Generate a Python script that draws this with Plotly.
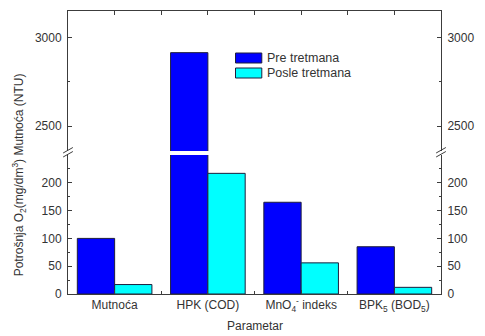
import plotly.graph_objects as go

# Water quality parameters before and after treatment
categories = ["Mutnoća", "HPK (COD)", "MnO<sub>4</sub><sup>-</sup> indeks", "BPK<sub>5</sub> (BOD<sub>5</sub>)"]
x_pos = [1, 2, 3, 4]
pre_tretmana = [100, 2915, 165, 85]
posle_tretmana = [17, 217, 56, 12]
series_names = ["Pre tretmana", "Posle tretmana"]

lower_ticks = [0, 50, 100, 150, 200]
upper_ticks = [2500, 3000]

W, H = 485, 336
L, R, T, B = 68, 451, 11, 294          # plot area in pixels
GAP_TOP, GAP_BOT = 151, 155            # axis break (pixels)

BLUE = "#0000ff"
CYAN = "#00ffff"
EDGE = "#1e1e3c"
AXIS = "#3c3c3c"
TXT = "#333333"
FONT = "Liberation Sans, Arial, sans-serif"


def px(xp):
    return (xp - L) / (R - L)


def py(yp):
    return (B - yp) / (B - T)


fig = go.Figure()
for xa, ya in (("x", "y"), ("x2", "y3")):
    fig.add_trace(go.Bar(x=x_pos, y=pre_tretmana, name=series_names[0],
                         marker=dict(color=BLUE, line=dict(color=EDGE, width=1)),
                         xaxis=xa, yaxis=ya, showlegend=False))
    fig.add_trace(go.Bar(x=x_pos, y=posle_tretmana, name=series_names[1],
                         marker=dict(color=CYAN, line=dict(color=EDGE, width=1)),
                         xaxis=xa, yaxis=ya, showlegend=False))

common_axis = dict(showline=True, linecolor=AXIS, linewidth=1, showgrid=False,
                   zeroline=False, ticks="inside", tickcolor=AXIS, ticklen=4,
                   tickfont=dict(family=FONT, size=12, color=TXT))

lower_dom = [0, py(GAP_BOT)]
upper_dom = [py(GAP_TOP), 1]

fig.update_layout(
    width=W, height=H,
    margin=dict(l=L, r=W - R, t=T, b=H - B),
    paper_bgcolor="white", plot_bgcolor="white",
    barmode="group", bargap=0.2, bargroupgap=0,
    xaxis=dict(**common_axis, range=[0.5, 4.5], anchor="y",
               tickmode="array", tickvals=x_pos, ticktext=categories,
               minor=dict(tickvals=[1.5, 2.5, 3.5], ticks="inside", ticklen=3, tickcolor=AXIS)),
    xaxis2=dict(**common_axis, range=[0.5, 4.5], anchor="y3", side="top", matches="x",
                tickmode="array", tickvals=[1, 1.5, 2, 2.5, 3, 3.5, 4], showticklabels=False),
    yaxis=dict(**common_axis, domain=lower_dom, range=[0, 250], anchor="x",
               tickmode="array", tickvals=lower_ticks, ticklabelstandoff=3,
               minor=dict(tickvals=[25, 75, 125, 175, 225], ticks="inside", ticklen=2, tickcolor=AXIS)),
    yaxis2=dict(**common_axis, domain=lower_dom, range=[0, 250], anchor="x",
                overlaying="y", side="right",
                tickmode="array", tickvals=lower_ticks, ticklabelstandoff=3,
                minor=dict(tickvals=[25, 75, 125, 175, 225], ticks="inside", ticklen=2, tickcolor=AXIS)),
    yaxis3=dict(**common_axis, domain=upper_dom, range=[2360, 3150], anchor="x2",
                tickmode="array", tickvals=upper_ticks, ticklabelstandoff=3,
                minor=dict(tickvals=[2750], ticks="inside", ticklen=2, tickcolor=AXIS)),
    yaxis4=dict(**common_axis, domain=upper_dom, range=[2360, 3150], anchor="x2",
                overlaying="y3", side="right",
                tickmode="array", tickvals=upper_ticks, ticklabelstandoff=3,
                minor=dict(tickvals=[2750], ticks="inside", ticklen=2, tickcolor=AXIS)),
)

# Empty traces so the right-hand axes are rendered
fig.add_trace(go.Scatter(x=[None], y=[None], xaxis="x", yaxis="y2", showlegend=False, hoverinfo="skip"))
fig.add_trace(go.Scatter(x=[None], y=[None], xaxis="x2", yaxis="y4", showlegend=False, hoverinfo="skip"))

shapes = []
# Axis break marks on both vertical axes
for ax in (L, R):
    for dy in (0, 4):
        shapes.append(dict(type="line", xref="paper", yref="paper",
                           x0=px(ax - 5), y0=py(153 + dy), x1=px(ax + 5), y1=py(147.5 + dy),
                           line=dict(color=AXIS, width=1)))

# Legend swatches
for i, col in enumerate((BLUE, CYAN)):
    y_top = 53 + 15 * i
    shapes.append(dict(type="rect", xref="paper", yref="paper",
                       x0=px(240), x1=px(267), y0=py(y_top + 10), y1=py(y_top),
                       fillcolor=col, line=dict(color=EDGE, width=1)))

annotations = []
for i, name in enumerate(series_names):
    annotations.append(dict(text=name, xref="paper", yref="paper",
                            x=px(270), y=py(58 + 15 * i), xanchor="left", yanchor="middle",
                            showarrow=False, font=dict(family=FONT, size=12.5, color=TXT)))

# Axis titles
annotations.append(dict(text="Potrošnja O<sub>2</sub>(mg/dm<sup>3</sup>) Mutnoća (NTU)",
                        xref="paper", yref="paper", x=px(18), y=py(175),
                        xanchor="center", yanchor="middle", textangle=-90, showarrow=False,
                        font=dict(family=FONT, size=12, color=TXT)))
annotations.append(dict(text="Parametar", xref="paper", yref="paper",
                        x=0.5, y=py(326), xanchor="center", yanchor="middle", showarrow=False,
                        font=dict(family=FONT, size=12, color=TXT)))

fig.update_layout(shapes=shapes, annotations=annotations)

fig.write_html("out.html")
